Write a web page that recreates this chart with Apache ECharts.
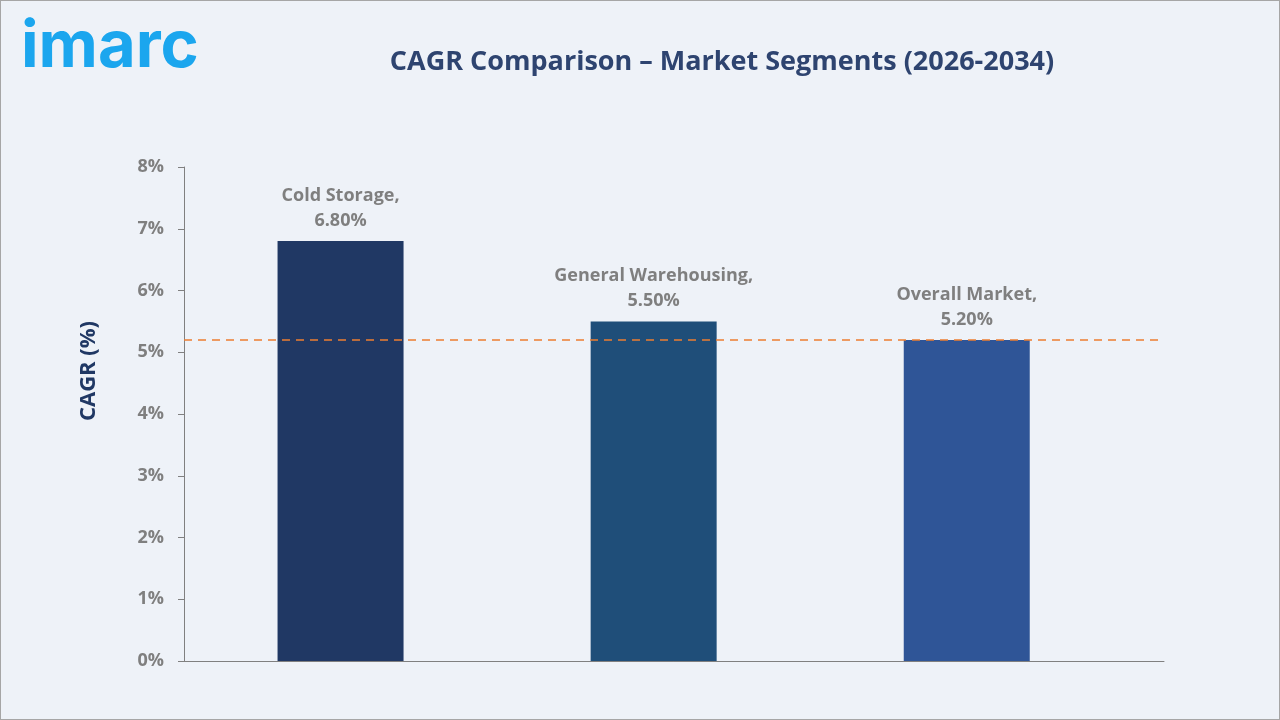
<!DOCTYPE html>
<html><head><meta charset="utf-8">
<script src="https://cdn.jsdelivr.net/npm/echarts@6/dist/echarts.min.js"></script>
<style>html,body{margin:0;padding:0;background:#eef2f8;}#c{width:1280px;height:720px;box-sizing:border-box;border:1px solid #a6a6a6;}</style>
</head><body><div id="c"></div>
<script>
const categories = ["Cold Storage", "General Warehousing", "Overall Market"];
const cagrValues = [6.8, 5.5, 5.2];
const barColors = ["#203864", "#1f4e79", "#2f5597"];
const referenceLine = 5.2;
const yTicks = [0, 1, 2, 3, 4, 5, 6, 7, 8];

// categories are placed at slot centers 0.5, 1.5, 2.5 on an axis that extends a bit past the last slot
const xMax = 3.13;

const chart = echarts.init(document.getElementById('c'));
chart.setOption({
  backgroundColor: '#eef2f8',
  animation: false,
  title: {
    text: 'CAGR Comparison – Market Segments (2026-2034)',
    left: 716, top: 43, textAlign: 'center',
    textStyle: {fontFamily: 'Open Sans', fontWeight: 'bold', fontSize: 27, color: '#2e4470'}
  },
  graphic: [{
    type: 'text', left: 20, top: 14,
    style: {text: 'imarc', fontFamily: 'Inter', fontWeight: 'bold', fontSize: 65, fill: '#1ba6ee'}
  }, {
    type: 'text', x: 88, y: 370, rotation: Math.PI / 2,
    style: {text: 'CAGR (%)', fontFamily: 'Open Sans', fontWeight: 'bold', fontSize: 22, fill: '#203864',
      align: 'center', verticalAlign: 'middle'}
  }],
  grid: {left: 183, right: 115, top: 166, bottom: 58},
  xAxis: {
    type: 'value', min: 0, max: xMax,
    axisLine: {show: true, lineStyle: {color: '#808080', width: 1}},
    axisTick: {show: false}, axisLabel: {show: false}, splitLine: {show: false}
  },
  yAxis: {
    type: 'value', min: yTicks[0], max: yTicks[yTicks.length - 1], interval: 1,
    axisLine: {show: true, lineStyle: {color: '#808080'}},
    axisTick: {show: true, length: 6, lineStyle: {color: '#808080'}},
    splitLine: {show: false},
    axisLabel: {formatter: v => v + '%', fontFamily: 'Open Sans', fontWeight: 'bold', fontSize: 18, color: '#7f7f7f', margin: 20}
  },
  series: [{
    type: 'bar', barWidth: 126,
    data: cagrValues.map((v, i) => ({value: [i + 0.5, v], itemStyle: {color: barColors[i]}})),
    label: {
      show: true, position: 'top', distance: 8,
      formatter: p => categories[p.dataIndex] + ',\n' + p.value[1].toFixed(2) + '%',
      fontFamily: 'Open Sans', fontWeight: 'bold', fontSize: 18, color: '#7f7f7f', lineHeight: 25, align: 'center'
    },
    markLine: {
      silent: true, symbol: ['none', 'none'], label: {show: false},
      lineStyle: {type: [8, 6], color: '#ed7d31', width: 1.5},
      data: [{yAxis: referenceLine}]
    }
  }]
});
</script></body></html>
